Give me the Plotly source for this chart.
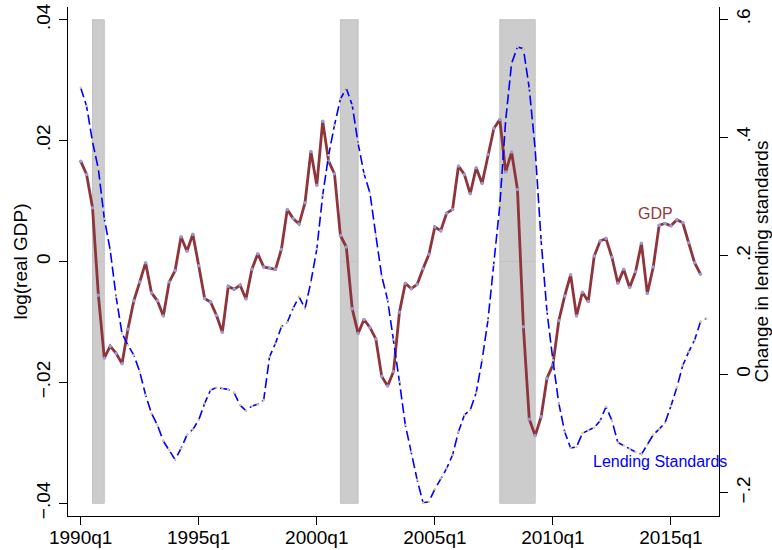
import plotly.graph_objects as go

# ---------------- data ----------------
start_quarter = "1990q1"
gdp = [
    0.0166, 0.0144, 0.0089, -0.0056, -0.0160, -0.0140, -0.0152, -0.0169, -0.0112, -0.0065,
    -0.0034, -0.0002, -0.0052, -0.0065, -0.0090, -0.0034, -0.0015, 0.0041, 0.0017, 0.0045,
    -0.0007, -0.0061, -0.0067, -0.0089, -0.0117, -0.0041, -0.0046, -0.0039, -0.0062, -0.0013,
    0.0013, -0.0009, -0.0011, -0.0013, 0.0020, 0.0086, 0.0071, 0.0062, 0.0097, 0.0182,
    0.0126, 0.0232, 0.0166, 0.0145, 0.0043, 0.0024, -0.0078, -0.0119, -0.0096, -0.0109,
    -0.0128, -0.0190, -0.0206, -0.0182, -0.0084, -0.0036, -0.0045, -0.0038, -0.0012, 0.0012,
    0.0057, 0.0051, 0.0080, 0.0086, 0.0158, 0.0144, 0.0112, 0.0155, 0.0129, 0.0177,
    0.0220, 0.0235, 0.0148, 0.0181, 0.0119, -0.0108, -0.0261, -0.0288, -0.0257, -0.0193,
    -0.0171, -0.0098, -0.0057, -0.0022, -0.0090, -0.0051, -0.0066, 0.0009, 0.0034, 0.0038,
    0.0007, -0.0036, -0.0013, -0.0043, -0.0017, 0.0030, -0.0053, -0.0009, 0.0060, 0.0063,
    0.0059, 0.0069, 0.0064, 0.0031, -0.0002, -0.0021,
]
lending = [
    0.484, 0.453, 0.393, 0.3465, 0.263, 0.210, 0.131, 0.069, 0.0495, 0.0326,
    0.0045, -0.035, -0.066, -0.0856, -0.1126, -0.1278, -0.144, -0.125, -0.1025, -0.093,
    -0.077, -0.049, -0.0265, -0.0226, -0.0245, -0.0253, -0.031, -0.052, -0.0614, -0.0535,
    -0.0507, -0.0434, 0.0297, 0.0523, 0.0804, 0.088, 0.112, 0.131, 0.111, 0.156,
    0.2115, 0.3026, 0.370, 0.4208, 0.465, 0.483, 0.4545, 0.390, 0.339, 0.3066,
    0.235, 0.166, 0.1254, 0.059, -0.0124, -0.0856, -0.1306, -0.178, -0.2167, -0.215,
    -0.194, -0.1755, -0.159, -0.136, -0.097, -0.0687, -0.060, -0.031, 0.024, 0.0916,
    0.1845, 0.285, 0.429, 0.525, 0.553, 0.550, 0.4827, 0.380, 0.2267, 0.1057,
    0.024, -0.049, -0.097, -0.1245, -0.1225, -0.0996, -0.0945, -0.090, -0.0785, -0.0547,
    -0.078, -0.115, -0.1205, -0.126, -0.131, -0.135, -0.119, -0.102, -0.0925, -0.082,
    -0.0535, -0.022, 0.015, 0.038, 0.0575, 0.0888, 0.0945,
]
recession_start = ["1990q3", "2001q1", "2007q4"]
recession_end = ["1991q1", "2001q4", "2009q2"]
recession_low = -0.04
recession_high = 0.04

x_tick_labels = ["1990q1", "1995q1", "2000q1", "2005q1", "2010q1", "2015q1"]
y_left_ticks = [-0.04, -0.02, 0, 0.02, 0.04]
y_left_labels = ["\u2212.04", "\u2212.02", "0", ".02", ".04"]
y_right_ticks = [-0.2, 0, 0.2, 0.4, 0.6]
y_right_labels = ["\u2212.2", "0", ".2", ".4", ".6"]


def qidx(q):
    y0, q0 = int(start_quarter[:4]), int(start_quarter[5])
    y, qq = int(q[:4]), int(q[5])
    return (y - y0) * 4 + (qq - q0)


x_gdp = list(range(len(gdp)))
x_lend = list(range(len(lending)))

MAROON = "rgb(142,52,58)"
BLUE = "#0000FF"
FONT = "Liberation Sans, Arial, sans-serif"

fig = go.Figure()

fig.add_trace(go.Scatter(
    x=x_gdp, y=gdp, mode="lines+markers", yaxis="y",
    line=dict(color=MAROON, width=2.8),
    marker=dict(size=3.5, color="#9a9ad8", line=dict(width=0)),
    showlegend=False, cliponaxis=False,
))
fig.add_trace(go.Scatter(
    x=x_lend, y=lending, mode="lines+markers", yaxis="y2",
    line=dict(color=BLUE, width=1.6, dash="10px,4px"),
    marker=dict(size=2.5, color="#d8cf90", line=dict(width=0)),
    showlegend=False, cliponaxis=False,
))

shapes = []
for s, e in zip(recession_start, recession_end):
    for lo, hi in [(0, recession_high), (recession_low, 0)]:
        shapes.append(dict(
            type="rect", xref="x", yref="y",
            x0=qidx(s), x1=qidx(e), y0=lo, y1=hi,
            fillcolor="#cccccc", line=dict(color="#c2c2c2", width=1),
            layer="below",
        ))

fig.update_layout(
    width=772, height=550,
    margin=dict(l=68, r=53, t=7, b=34, autoexpand=False),
    plot_bgcolor="white", paper_bgcolor="white",
    font=dict(family=FONT, size=19, color="black"),
    shapes=shapes,
    xaxis=dict(
        range=[-2.15, 108.14], automargin=False,
        tickvals=[qidx(t) for t in x_tick_labels], ticktext=x_tick_labels,
        showgrid=False, zeroline=False,
        showline=True, linecolor="black", linewidth=1,
        ticks="outside", ticklen=8, tickcolor="black", tickwidth=1,
        tickfont=dict(size=19), ticklabelstandoff=-4,
    ),
    yaxis=dict(
        range=[-0.0421, 0.0421], automargin=False,
        tickvals=y_left_ticks, ticktext=y_left_labels, tickangle=-90,
        showgrid=False, zeroline=False,
        showline=True, linecolor="black", linewidth=1,
        ticks="outside", ticklen=8, tickcolor="black", tickwidth=1,
        tickfont=dict(size=19), ticklabelstandoff=1,
        title=dict(text="log(real GDP)", font=dict(size=19), standoff=0),
    ),
    yaxis2=dict(
        range=[-0.2392, 0.6204], overlaying="y", side="right", automargin=False,
        tickvals=y_right_ticks, ticktext=y_right_labels, tickangle=-90,
        showgrid=False, zeroline=False,
        showline=True, linecolor="black", linewidth=1,
        ticks="outside", ticklen=8, tickcolor="black", tickwidth=1,
        tickfont=dict(size=19), ticklabelstandoff=-1,
        title=dict(text="Change in lending standards", font=dict(size=19), standoff=12),
    ),
    annotations=[
        dict(x=97.4, y=0.0080, xref="x", yref="y", text="GDP", showarrow=False,
             font=dict(size=16, color="rgb(150,55,62)"), xanchor="center", yanchor="middle"),
        dict(x=98.1, y=-0.1475, xref="x", yref="y2", text="Lending Standards", showarrow=False,
             font=dict(size=16, color=BLUE), xanchor="center", yanchor="middle"),
    ],
)

fig.write_html("out.html", config={"displayModeBar": False},
               post_script="document.body.style.margin='0';")
